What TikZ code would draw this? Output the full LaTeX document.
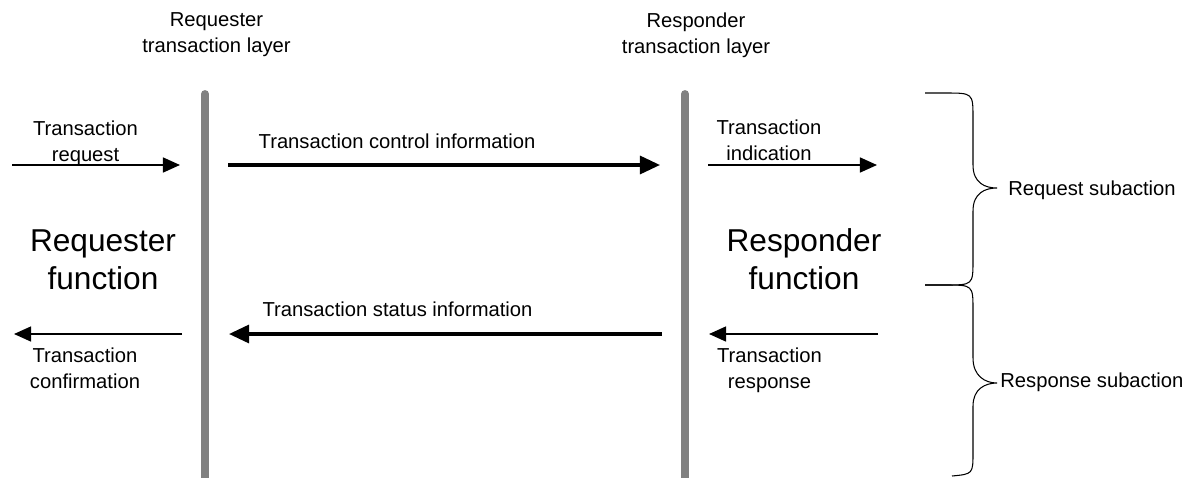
\documentclass[tikz,border=0pt]{standalone}
\usepackage{fontspec}
\setmainfont{Liberation Sans}
\usetikzlibrary{arrows.meta}

\begin{document}
\begin{tikzpicture}[x=0.02cm, y=-0.02cm,
    lbl/.style={font=\fontsize{11.5}{14.8}\selectfont, inner sep=0pt, align=center},
    fn/.style={font=\fontsize{18}{21.6}\selectfont, inner sep=0pt, align=center},
    layer/.style={line width=4.5pt, color=black!50, line cap=round},
    thinarr/.style={line width=1pt, -{Triangle[length=9.7pt, width=8.5pt]}},
    thickarr/.style={line width=1.9pt, -{Triangle[length=11.4pt, width=10.2pt]}},
    brc/.style={line width=0.6pt}]
        \useasboundingbox (0,0) rectangle (1192,477);
        \def\armup{165}
        \def\armdown{334}

        % the two transaction layers
        \coordinate (reqtop) at (205,94);  \coordinate (reqbot) at (205,480);
        \coordinate (resptop) at (685,94); \coordinate (respbot) at (685,480);
        \draw[layer] (reqtop) -- (reqbot);
        \draw[layer] (resptop) -- (respbot);

        \node[lbl] (reqlayer) at (216.5,34.8) {Requester\\transaction layer};
        \node[lbl] (resplayer) at (696,34.8) {Responder\\transaction layer};

        \node[fn] (reqfn) at (103,259.7) {Requester\\function};
        \node[fn] (respfn) at (804,259.6) {Responder\\function};

        % request direction
        \coordinate (treqA) at (12,\armup);   \coordinate (treqB) at (180,\armup);
        \coordinate (ctrlA) at (228,\armup);  \coordinate (ctrlB) at (660,\armup);
        \coordinate (tindA) at (708,\armup);  \coordinate (tindB) at (877,\armup);
        \draw[thinarr] (treqA) -- (treqB);
        \draw[thickarr] (ctrlA) -- (ctrlB);
        \draw[thinarr] (tindA) -- (tindB);
        \node[lbl] (treq) at (85.5,142.8) {Transaction\\request};
        \node[lbl, anchor=base] (ctrl) at (397,148) {Transaction control information};
        \node[lbl] (tind) at (769,140.7) {Transaction\\indication};

        % response direction
        \coordinate (trespA) at (878,\armdown);  \coordinate (trespB) at (709,\armdown);
        \coordinate (statA) at (662,\armdown);   \coordinate (statB) at (229,\armdown);
        \coordinate (tconfA) at (182,\armdown);  \coordinate (tconfB) at (14,\armdown);
        \draw[thinarr] (trespA) -- (trespB);
        \draw[thickarr] (statA) -- (statB);
        \draw[thinarr] (tconfA) -- (tconfB);
        \node[lbl] (tresp) at (769.5,370.3) {Transaction\\response};
        \node[lbl, anchor=base] (status) at (397.5,316) {Transaction status information};
        \node[lbl] (tconf) at (85,368) {Transaction\\confirmation};

        % subaction braces
        \draw[brc] (925,93) -- (945,93) .. controls (973,93) .. (973,118) -- (973,165)
            .. controls (973,183) and (985,188) .. (997,188)
            .. controls (985,188) and (973,193) .. (973,211) -- (973,260)
            .. controls (973,285) .. (945,285) -- (925,285);
        \draw[brc] (925,285) -- (945,285) .. controls (973,285) .. (973,310) -- (973,358)
            .. controls (973,376) and (985,383) .. (997,383)
            .. controls (985,383) and (973,389) .. (973,406) -- (973,452)
            .. controls (973,474) .. (952,476);
        \node[lbl, anchor=base west] (reqsub) at (1008,195) {Request subaction};
        \node[lbl, anchor=base west] (respsub) at (1000,387) {Response subaction};

    \end{tikzpicture}
\end{document}
